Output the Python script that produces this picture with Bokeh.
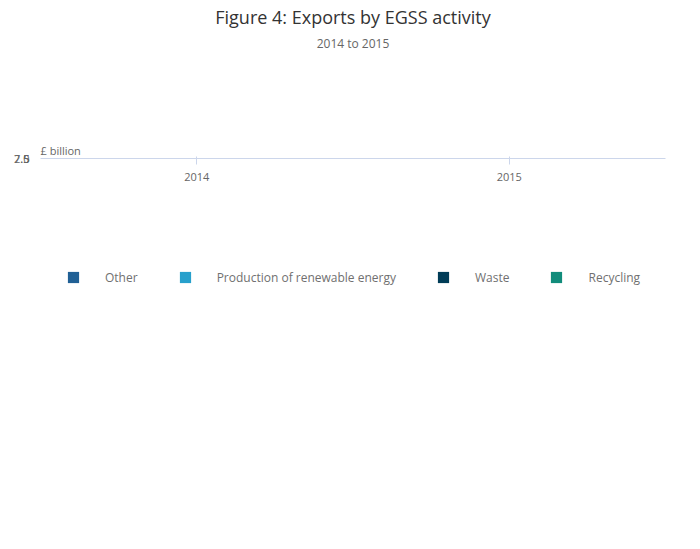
from bokeh.plotting import figure
from bokeh.models import Legend, LegendItem, FixedTicker, ColumnDataSource, Title
from bokeh.embed import file_html
from bokeh.resources import INLINE

years = ["2014", "2015"]
recycling = [2.97, 2.38]
waste = [2.64, 2.04]
renewable = [0.11, 0.07]
other = [0.44, 0.52]
series = ["Recycling", "Waste", "Production of renewable energy", "Other"]
colors = ["#118c7b", "#003c57", "#27a0cc", "#206095"]
FONT = "Open Sans"

src = ColumnDataSource(dict(year=years, Recycling=recycling, Waste=waste,
                            **{"Production of renewable energy": renewable}, Other=other))

p = figure(x_range=years, y_range=(0, 7.5), width=684, height=533,
           output_backend="svg", toolbar_location=None,
           min_border_left=40, min_border_right=19, min_border_top=0, min_border_bottom=0)
p.outline_line_color = None

rs = p.vbar_stack(series, x="year", width=0.8, color=colors, source=src, line_color=None)

p.yaxis.ticker = FixedTicker(ticks=[0, 2.5, 5, 7.5])
p.yaxis.major_label_overrides = {0: "0", 2.5: "2.5", 5: "5", 7.5: "7.5"}
p.yaxis.axis_line_color = None
p.yaxis.major_tick_line_color = None
p.yaxis.minor_tick_line_color = None
p.yaxis.major_label_text_font = FONT
p.yaxis.major_label_text_font_size = "11px"
p.yaxis.major_label_text_color = "#666666"
p.ygrid.grid_line_color = "#e6e6e6"
p.xgrid.grid_line_color = None
p.xaxis.axis_line_color = "#ccd6eb"
p.xaxis.major_tick_line_color = "#ccd6eb"
p.xaxis.major_label_text_font = FONT
p.xaxis.major_label_text_font_size = "11px"
p.xaxis.major_label_text_color = "#666666"
p.xaxis.major_label_standoff = 8

items = [LegendItem(label=s, renderers=[r]) for s, r in zip(series, rs)][::-1]
leg = Legend(items=items, orientation="horizontal", location="top_left",
             label_text_font=FONT, label_text_font_size="12px", label_text_color="#707070",
             glyph_width=14, glyph_height=14, spacing=40, label_standoff=25,
             border_line_color=None, background_fill_alpha=0, padding=0, margin=26)
p.add_layout(leg, "below")

def title(text, place, size, color, style="normal", align="center", offset=0, standoff=0):
    p.add_layout(Title(text=text, text_font=FONT, text_font_size=size, text_color=color,
                       text_font_style=style, align=align, offset=offset, standoff=standoff), place)

# above: nearest frame first
title("£ billion", "above", "11px", "#666666", align="left", standoff=2)
title(" ", "above", "62px", "white")
title("2014 to 2015", "above", "12px", "#666666", standoff=4)
title("Figure 4: Exports by EGSS activity", "above", "18px", "#333333", standoff=4)
# below
title(" ", "below", "52px", "white")
title("Source: Office for National Statistics", "below", "14px", "#707070",
      style="bold", align="left", offset=-30)

open("out.html", "w").write(file_html(p, INLINE))
